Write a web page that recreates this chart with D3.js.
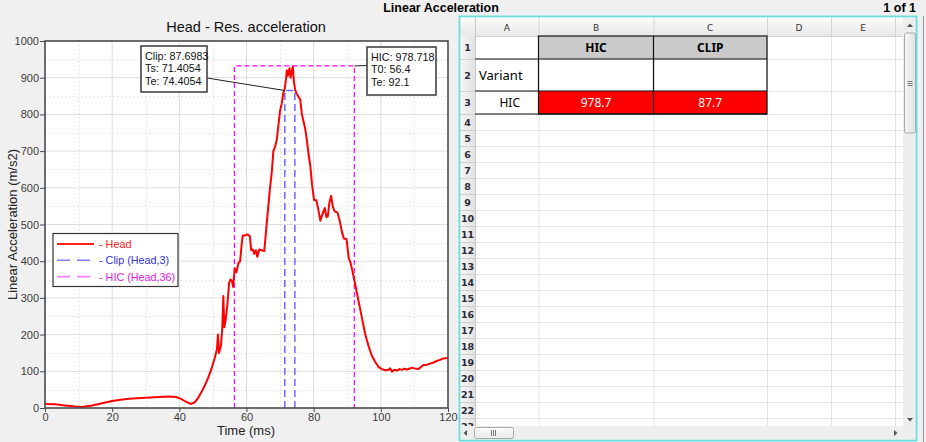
<!DOCTYPE html>
<html><head><meta charset="utf-8">
<script src="https://cdn.jsdelivr.net/npm/d3@7"></script>
<style>
body{margin:0;background:#f0f0f0;overflow:hidden;}
svg{display:block;font-family:"Liberation Sans",Arial,sans-serif;}
</style>
</head><body>
<svg id="c" width="926" height="442"></svg>
<script>
// ---------------- data ----------------
const timeMs = [0,3,6,9,11,14,17,20,23,26,30,34,37,39,40.5,42,43.3,44.5,45.5,46.5,47.5,48.5,49.5,50.5,51.2,51.5,51.8,52.4,52.8,53.1,53.4,53.8,54.3,54.8,55.2,55.7,56.0,56.5,57.0,57.6,58.1,58.6,58.9,59.5,60.3,61.0,61.4,61.9,62.3,62.8,63.2,63.8,64.5,65.3,65.8,66.2,67.0,67.5,68.0,68.5,69.0,69.5,70.0,70.5,71.0,71.4,71.8,72.0,72.3,72.8,73.1,73.5,73.8,74.1,74.5,74.9,75.5,76.0,76.5,77.0,77.5,78.0,78.5,79.0,79.5,80.1,80.8,81.4,82.0,82.5,82.9,83.3,83.8,84.2,84.7,85.2,85.7,86.3,87.1,87.8,88.4,89.0,89.8,90.4,91.0,91.5,92.3,93.3,94.3,95.3,96.3,97.3,98.3,99.3,100.3,101.3,102.3,102.8,103.3,104.0,104.8,105.5,106.3,107.0,107.8,108.5,109.3,110.0,111.2,112.0,112.7,113.7,114.7,115.7,116.6,117.6,118.6,120];
const headAccel = [11,10,7,4,3,7,13,19,23,26,28,30,31,30,25,17,11,15,26,42,60,80,105,135,160,200,150,170,220,305,220,240,280,340,350,345,330,380,370,395,400,450,470,470,473,468,430,432,420,430,412,432,430,428,480,520,600,640,700,712,730,770,810,830,860,870,900,920,905,926,900,918,930,890,866,857,848,840,800,780,760,728,690,660,610,567,566,540,510,525,535,545,520,522,560,578,548,535,533,508,480,462,460,410,395,375,340,294,249,203,170,143,126,112,106,103,104,108,99,104,102,106,104,107,105,107,110,108,106,112,117,118,121,124,128,131,135,136];

const clipValue = 87.6983, clipTs = 71.4054, clipTe = 74.4054, clipLevel = 865;
const hicValue = 978.718, hicT0 = 56.4, hicTe = 92.1, hicLevel = 932;

const xTicks = [0,20,40,60,80,100,120];
const xMinor = [10,30,50,70,90,110];
const yTicks = [0,100,200,300,400,500,600,700,800,900,1000];
const yMinor = [50,150,250,350,450,550,650,750,850,950];

const clipLabel = ["Clip: 87.6983","Ts: 71.4054","Te: 74.4054"];
const hicLabel = ["HIC: 978.718","T0: 56.4","Te: 92.1"];
const legendLabels = ["- Head","- Clip (Head,3)","- HIC (Head,36)"];

const sheetCols = ["A","B","C","D","E"];
const sheetRowNums = d3.range(1,24);
const tableHead = ["","HIC","CLIP"];
const tableRows = [["Variant","",""],["HIC","978.7","87.7"]];

// ---------------- chart ----------------
const svg = d3.select("#c");
svg.append("rect").attr("width",926).attr("height",442).attr("fill","#f0f0f0");

const L=45,R=448,T=41,B=408;
const x = d3.scaleLinear().domain([0,120]).range([L,R]);
const y = d3.scaleLinear().domain([0,1000]).range([B,T]);

const g = svg.append("g");
g.append("rect").attr("x",L).attr("y",T).attr("width",R-L).attr("height",B-T).attr("fill","#fff");

// grid
g.selectAll(".gx").data(xTicks.slice(1,-1)).join("line")
  .attr("x1",d=>x(d)).attr("x2",d=>x(d)).attr("y1",T).attr("y2",B)
  .attr("stroke","#dcdcdc").attr("stroke-width",1);
g.selectAll(".gxm").data(xMinor).join("line")
  .attr("x1",d=>Math.round(x(d))+0.5).attr("x2",d=>Math.round(x(d))+0.5).attr("y1",T).attr("y2",B)
  .attr("stroke","#d6d6d6").attr("stroke-dasharray","1,3");
g.selectAll(".gy").data(yTicks.slice(1,-1)).join("line")
  .attr("y1",d=>y(d)).attr("y2",d=>y(d)).attr("x1",L).attr("x2",R)
  .attr("stroke","#dcdcdc").attr("stroke-width",1);
g.selectAll(".gym").data(yMinor).join("line")
  .attr("y1",d=>Math.round(y(d))+0.5).attr("y2",d=>Math.round(y(d))+0.5).attr("x1",L).attr("x2",R)
  .attr("stroke","#d6d6d6").attr("stroke-dasharray","1,3");

// HIC rectangle
const hicPath = d3.path();
hicPath.moveTo(x(hicT0),y(0)); hicPath.lineTo(x(hicT0),y(hicLevel));
hicPath.lineTo(x(hicTe),y(hicLevel)); hicPath.lineTo(x(hicTe),y(0));
g.append("path").attr("d",hicPath.toString()).attr("fill","none")
  .attr("stroke","#ff00ff").attr("stroke-width",1.2).attr("stroke-dasharray","5,3");

// Clip rectangle
const clipPath = d3.path();
clipPath.moveTo(x(clipTs),y(0)); clipPath.lineTo(x(clipTs),y(clipLevel));
clipPath.lineTo(x(clipTe),y(clipLevel)); clipPath.lineTo(x(clipTe),y(0));
g.append("path").attr("d",clipPath.toString()).attr("fill","none")
  .attr("stroke","#6a6aff").attr("stroke-width",1.5).attr("stroke-dasharray","7,4");

// head curve
const pts = timeMs.map((t,i)=>[t,headAccel[i]]);
g.append("path").datum(pts)
  .attr("d",d3.line().x(d=>x(d[0])).y(d=>y(d[1])))
  .attr("fill","none").attr("stroke","#ff0000").attr("stroke-width",2).attr("stroke-linejoin","round");

// frame
g.append("rect").attr("x",L).attr("y",T).attr("width",R-L).attr("height",B-T)
  .attr("fill","none").attr("stroke","#4a4a4a").attr("stroke-width",1.6);

// axes
const ax = g.append("g").attr("transform",`translate(0,${B})`)
  .call(d3.axisBottom(x).tickValues(xTicks).tickSize(4).tickPadding(1).tickFormat(d3.format("d")));
const ay = g.append("g").attr("transform",`translate(${L},0)`)
  .call(d3.axisLeft(y).tickValues(yTicks).tickSize(5).tickPadding(1).tickFormat(d3.format("d")));
[ax,ay].forEach(a=>{
  a.select(".domain").remove();
  a.selectAll(".tick line").attr("stroke","#4a4a4a");
  a.selectAll("text").attr("fill","#3a3a3a").style("font-size","11px")
    .style("font-family","'Liberation Sans',Arial,sans-serif");
});

// titles
svg.append("text").attr("x",246).attr("y",32).attr("text-anchor","middle")
  .style("font-size","14.5px").attr("fill","#111").text("Head - Res. acceleration");
svg.append("text").attr("x",246).attr("y",435).attr("text-anchor","middle")
  .style("font-size","13px").attr("fill","#222").text("Time (ms)");
svg.append("text").attr("transform",`translate(17,${(T+B)/2}) rotate(-90)`).attr("text-anchor","middle")
  .style("font-size","13px").attr("fill","#222").text("Linear Acceleration (m/s2)");
svg.append("text").attr("x",441).attr("y",12).attr("text-anchor","middle")
  .style("font-size","12.5px").style("font-weight","bold").attr("fill","#000").text("Linear Acceleration");
svg.append("text").attr("x",916).attr("y",12).attr("text-anchor","end")
  .style("font-size","12.5px").style("font-weight","bold").attr("fill","#000").text("1 of 1");

// annotation boxes
function annot(lines, bx, by, bw, bh, ax1, ay1, ax2, ay2){
  g.append("line").attr("x1",ax1).attr("y1",ay1).attr("x2",ax2).attr("y2",ay2)
    .attr("stroke","#222").attr("stroke-width",1);
  g.append("rect").attr("x",bx).attr("y",by).attr("width",bw).attr("height",bh)
    .attr("fill","#fff").attr("stroke","#444").attr("stroke-width",1.6);
  lines.forEach((s,i)=>g.append("text").attr("x",bx+4).attr("y",by+14+i*12.4)
    .style("font-size","10.8px").attr("fill","#111").text(s));
}
annot(clipLabel, 141, 46, 66, 46, 207, 78, x(clipTs), y(clipLevel));
annot(hicLabel, 367, 47, 69, 48, x(hicTe), y(hicLevel), 367, 65.5);

// legend
const lg = g.append("g");
lg.append("rect").attr("x",53).attr("y",233.5).attr("width",125).attr("height",53)
  .attr("fill","#fff").attr("stroke","#333").attr("stroke-width",1.2);
const legStroke = ["#ff2020","#8080ff","#ff80ff"];
const legText = ["#ff2020","#3030dd","#e020e0"];
const legDash = [null,"13,7","13,7"];
legendLabels.forEach((s,i)=>{
  const yy = 244 + i*16.3;
  lg.append("line").attr("x1",57).attr("x2",94).attr("y1",yy).attr("y2",yy)
    .attr("stroke",legStroke[i]).attr("stroke-width",i===0?2:1.6).attr("stroke-dasharray",legDash[i]);
  lg.append("text").attr("x",99).attr("y",yy+4).style("font-size","10.8px").attr("fill",legText[i]).text(s);
});

// ---------------- spreadsheet ----------------
const sh = svg.append("g");
const colX = [460,475,538.5,653.5,767,831,895,903];
const rowY = [17,36,59,91,114].concat(d3.range(1,20).map(i=>114+16*i));
sh.append("rect").attr("x",459.5).attr("y",16.5).attr("width",457).attr("height",424)
  .attr("fill","#fff").attr("stroke","#62dede").attr("stroke-width",1.5);

const defs = svg.append("defs");
const gr = defs.append("linearGradient").attr("id","hdr").attr("x1",0).attr("y1",0).attr("x2",0).attr("y2",1);
gr.append("stop").attr("offset",0).attr("stop-color","#fbfbfb");
gr.append("stop").attr("offset",1).attr("stop-color","#e9e9e9");
const gr2 = defs.append("linearGradient").attr("id","rhdr").attr("x1",0).attr("y1",0).attr("x2",1).attr("y2",0);
gr2.append("stop").attr("offset",0).attr("stop-color","#f6f6f6");
gr2.append("stop").attr("offset",1).attr("stop-color","#e2e2e2");

const cells = sh.append("g");
const bodyBottom = 426;
d3.range(1,colX.length).forEach(i=>{
  cells.append("line").attr("x1",colX[i]+0.5).attr("x2",colX[i]+0.5).attr("y1",17).attr("y2",bodyBottom)
    .attr("stroke","#e4e4e4");
});
rowY.slice(1).forEach(yy=>{
  if(yy<=bodyBottom) cells.append("line").attr("x1",460).attr("x2",903).attr("y1",yy+0.5).attr("y2",yy+0.5)
    .attr("stroke","#e4e4e4");
});
sh.append("rect").attr("x",460).attr("y",17).attr("width",443).attr("height",19).attr("fill","url(#hdr)");
d3.range(1,colX.length).forEach(i=>{
  sh.append("line").attr("x1",colX[i]+0.5).attr("x2",colX[i]+0.5).attr("y1",17).attr("y2",36)
    .attr("stroke","#d2d2d2");
});
sh.append("line").attr("x1",460).attr("x2",903).attr("y1",36.5).attr("y2",36.5).attr("stroke","#d0d0d0");
sheetCols.forEach((c,i)=>{
  sh.append("text").attr("x",(colX[i+1]+colX[i+2])/2).attr("y",30.5).attr("text-anchor","middle")
    .style("font-family","'DejaVu Sans',sans-serif").style("font-size","9px").attr("fill","#333").text(c);
});
sh.append("rect").attr("x",460).attr("y",36).attr("width",15).attr("height",390).attr("fill","url(#rhdr)");
sheetRowNums.forEach((r,i)=>{
  const y0 = rowY[i+1], y1 = rowY[i+2] !== undefined ? rowY[i+2] : y0+16;
  if(y0>=bodyBottom) return;
  sh.append("line").attr("x1",460).attr("x2",475).attr("y1",y1+0.5).attr("y2",y1+0.5).attr("stroke","#cfcfcf");
  sh.append("text").attr("x",467.5).attr("y",(y0+y1)/2+3.5).attr("text-anchor","middle")
    .style("font-family","'DejaVu Sans',sans-serif").style("font-size","9.5px").style("font-weight","bold")
    .attr("fill","#2a2a3a").text(r);
});
sh.append("line").attr("x1",475.5).attr("x2",475.5).attr("y1",17).attr("y2",426).attr("stroke","#c8c8c8");

tableHead.forEach((h,j)=>{
  if(j===0) return;
  sh.append("rect").attr("x",colX[j+1]).attr("y",rowY[1]).attr("width",colX[j+2]-colX[j+1]).attr("height",rowY[2]-rowY[1])
    .attr("fill","#cacaca");
  sh.append("text").attr("x",(colX[j+1]+colX[j+2])/2).attr("y",(rowY[1]+rowY[2])/2+4.5).attr("text-anchor","middle")
    .style("font-family","'Noto Sans',sans-serif").style("font-size","12px").style("font-weight","bold")
    .attr("fill","#000").text(h);
});
tableRows.forEach((row,ri)=>{
  const y0=rowY[ri+2], y1=rowY[ri+3];
  row.forEach((v,j)=>{
    const isVal = ri===1 && j>0;
    if(isVal) sh.append("rect").attr("x",colX[j+1]).attr("y",y0).attr("width",colX[j+2]-colX[j+1]).attr("height",y1-y0).attr("fill","#ff0000");
    if(v==="") return;
    const t = sh.append("text").attr("y",(y0+y1)/2+4.5)
      .style("font-family","'Noto Sans',sans-serif").style("font-size", j===0&&ri===0?"13px":"12px")
      .attr("fill", isVal?"#fff":"#000").text(v);
    if(j===0 && ri===0) t.attr("x",colX[1]+4);
    else t.attr("x",(colX[j+1]+colX[j+2])/2+ (j===0?3:0)).attr("text-anchor","middle");
  });
});
const bl = sh.append("g").attr("stroke","#111").attr("stroke-width",1.2);
bl.append("rect").attr("x",colX[2]).attr("y",rowY[1]).attr("width",colX[4]-colX[2]).attr("height",rowY[4]-rowY[1]).attr("fill","none");
bl.append("line").attr("x1",colX[3]).attr("x2",colX[3]).attr("y1",rowY[1]).attr("y2",rowY[4]);
bl.append("line").attr("x1",colX[1]).attr("x2",colX[4]).attr("y1",rowY[2]).attr("y2",rowY[2]);
bl.append("line").attr("x1",colX[1]).attr("x2",colX[4]).attr("y1",rowY[3]).attr("y2",rowY[3]);
bl.append("line").attr("x1",colX[1]).attr("x2",colX[4]).attr("y1",rowY[4]).attr("y2",rowY[4]);

const vs = sh.append("g");
vs.append("rect").attr("x",903).attr("y",17).attr("width",14).attr("height",409).attr("fill","#eeeeee");
vs.append("path").attr("d","M907,27 L910,23.5 L913,27 Z").attr("fill","#555");
vs.append("rect").attr("x",904.5).attr("y",33).attr("width",11).attr("height",100).attr("rx",2)
  .attr("fill","url(#rhdr)").attr("stroke","#a8a8a8");
[81,83,85].forEach(yy=>vs.append("line").attr("x1",907.5).attr("x2",912.5).attr("y1",yy+0.5).attr("y2",yy+0.5).attr("stroke","#777"));
vs.append("path").attr("d","M907,418 L910,421.5 L913,418 Z").attr("fill","#555");
const hs = sh.append("g");
hs.append("rect").attr("x",460).attr("y",426).attr("width",457).attr("height",14).attr("fill","#eeeeee");
hs.append("path").attr("d","M467,430 L463.5,433 L467,436 Z").attr("fill","#555");
hs.append("rect").attr("x",474.5).attr("y",427.5).attr("width",39).attr("height",11).attr("rx",2)
  .attr("fill","url(#hdr)").attr("stroke","#a8a8a8");
[491,493,495].forEach(xx=>hs.append("line").attr("x1",xx+0.5).attr("x2",xx+0.5).attr("y1",430).attr("y2",436).attr("stroke","#777"));
hs.append("path").attr("d","M894,430 L897.5,433 L894,436 Z").attr("fill","#555");
sh.append("rect").attr("x",459.5).attr("y",16.5).attr("width",457).attr("height",424)
  .attr("fill","none").attr("stroke","#62dede").attr("stroke-width",1.5);
svg.append("line").attr("x1",923.5).attr("x2",923.5).attr("y1",16).attr("y2",442).attr("stroke","#9a9a9a");
</script>
</body></html>
